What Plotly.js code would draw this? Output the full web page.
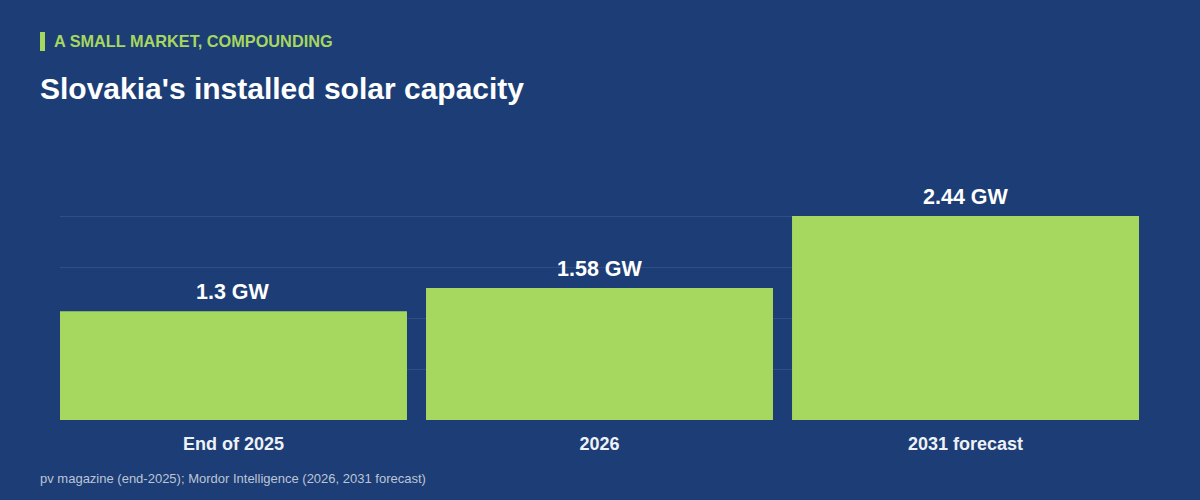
<!DOCTYPE html>
<html>
<head>
<meta charset="utf-8">
<script src="https://cdn.plot.ly/plotly-3.0.1.min.js"></script>
<style>html,body{margin:0;padding:0;background:#1c3d75;}#chart{width:1200px;height:500px;}</style>
</head>
<body>
<div id="chart"></div>
<script>
const categories = ["End of 2025", "2026", "2031 forecast"];
const capacityGW = [1.3, 1.58, 2.44];
const valueLabels = ["1.3 GW", "1.58 GW", "2.44 GW"];
const gridVals = [0, 0.61, 1.22, 1.83, 2.44];

const W = 1200, H = 500;
const M = {l: 60, r: 61, t: 205, b: 80};
const pw = W - M.l - M.r, ph = H - M.t - M.b;
const px = x => (x - M.l) / pw;
const py = y => (H - M.b - y) / ph;

const FONT = "Liberation Sans, Arial, sans-serif";
const GREEN = "#a6d75f";

const trace = {
  type: "bar",
  x: categories,
  y: capacityGW,
  marker: {color: GREEN},
  hoverinfo: "skip",
  cliponaxis: false
};

const annotations = categories.map((c, i) => ({
  x: i, y: capacityGW[i], xref: "x", yref: "y",
  text: valueLabels[i], showarrow: false,
  yanchor: "bottom", yshift: 5,
  font: {family: FONT, size: 21.5, color: "#ffffff", weight: 700}
}));

annotations.push({
  xref: "paper", yref: "paper", x: px(52), y: py(41),
  xanchor: "left", yanchor: "middle", showarrow: false,
  text: "<b>A SMALL MARKET, COMPOUNDING</b>",
  font: {family: FONT, size: 16.3, color: GREEN}
});
annotations.push({
  xref: "paper", yref: "paper", x: px(38), y: py(478),
  xanchor: "left", yanchor: "middle", showarrow: false,
  text: "pv magazine (end-2025); Mordor Intelligence (2026, 2031 forecast)",
  font: {family: FONT, size: 13, color: "#bcc5d7"}
});

const layout = {
  width: W, height: H,
  paper_bgcolor: "#1c3d75", plot_bgcolor: "#1c3d75",
  margin: M,
  showlegend: false,
  bargap: 0.052,
  title: {
    text: "<b>Slovakia's installed solar capacity</b>",
    x: 40 / W, xref: "container", xanchor: "left",
    y: 1 - 88 / H, yref: "container", yanchor: "middle",
    font: {family: FONT, size: 30, color: "#ffffff"}
  },
  xaxis: {
    type: "category",
    range: [-0.474, 2.474],
    showgrid: false, zeroline: false, showline: false,
    ticks: "outside", ticklen: 7, tickcolor: "rgba(0,0,0,0)",
    tickfont: {family: FONT, size: 18, color: "#eef1f6", weight: 700},
    fixedrange: true
  },
  yaxis: {
    range: [0, 2.5716],
    tickvals: gridVals,
    showticklabels: false,
    showgrid: true, gridcolor: "rgba(255,255,255,0.09)", gridwidth: 1,
    zeroline: false, showline: false,
    fixedrange: true
  },
  shapes: [{
    type: "rect", xref: "paper", yref: "paper",
    x0: px(40), x1: px(45), y0: py(51), y1: py(32),
    fillcolor: GREEN, line: {width: 0}
  }],
  annotations: annotations
};

Plotly.newPlot("chart", [trace], layout, {displayModeBar: false, staticPlot: true});
</script>
</body>
</html>
